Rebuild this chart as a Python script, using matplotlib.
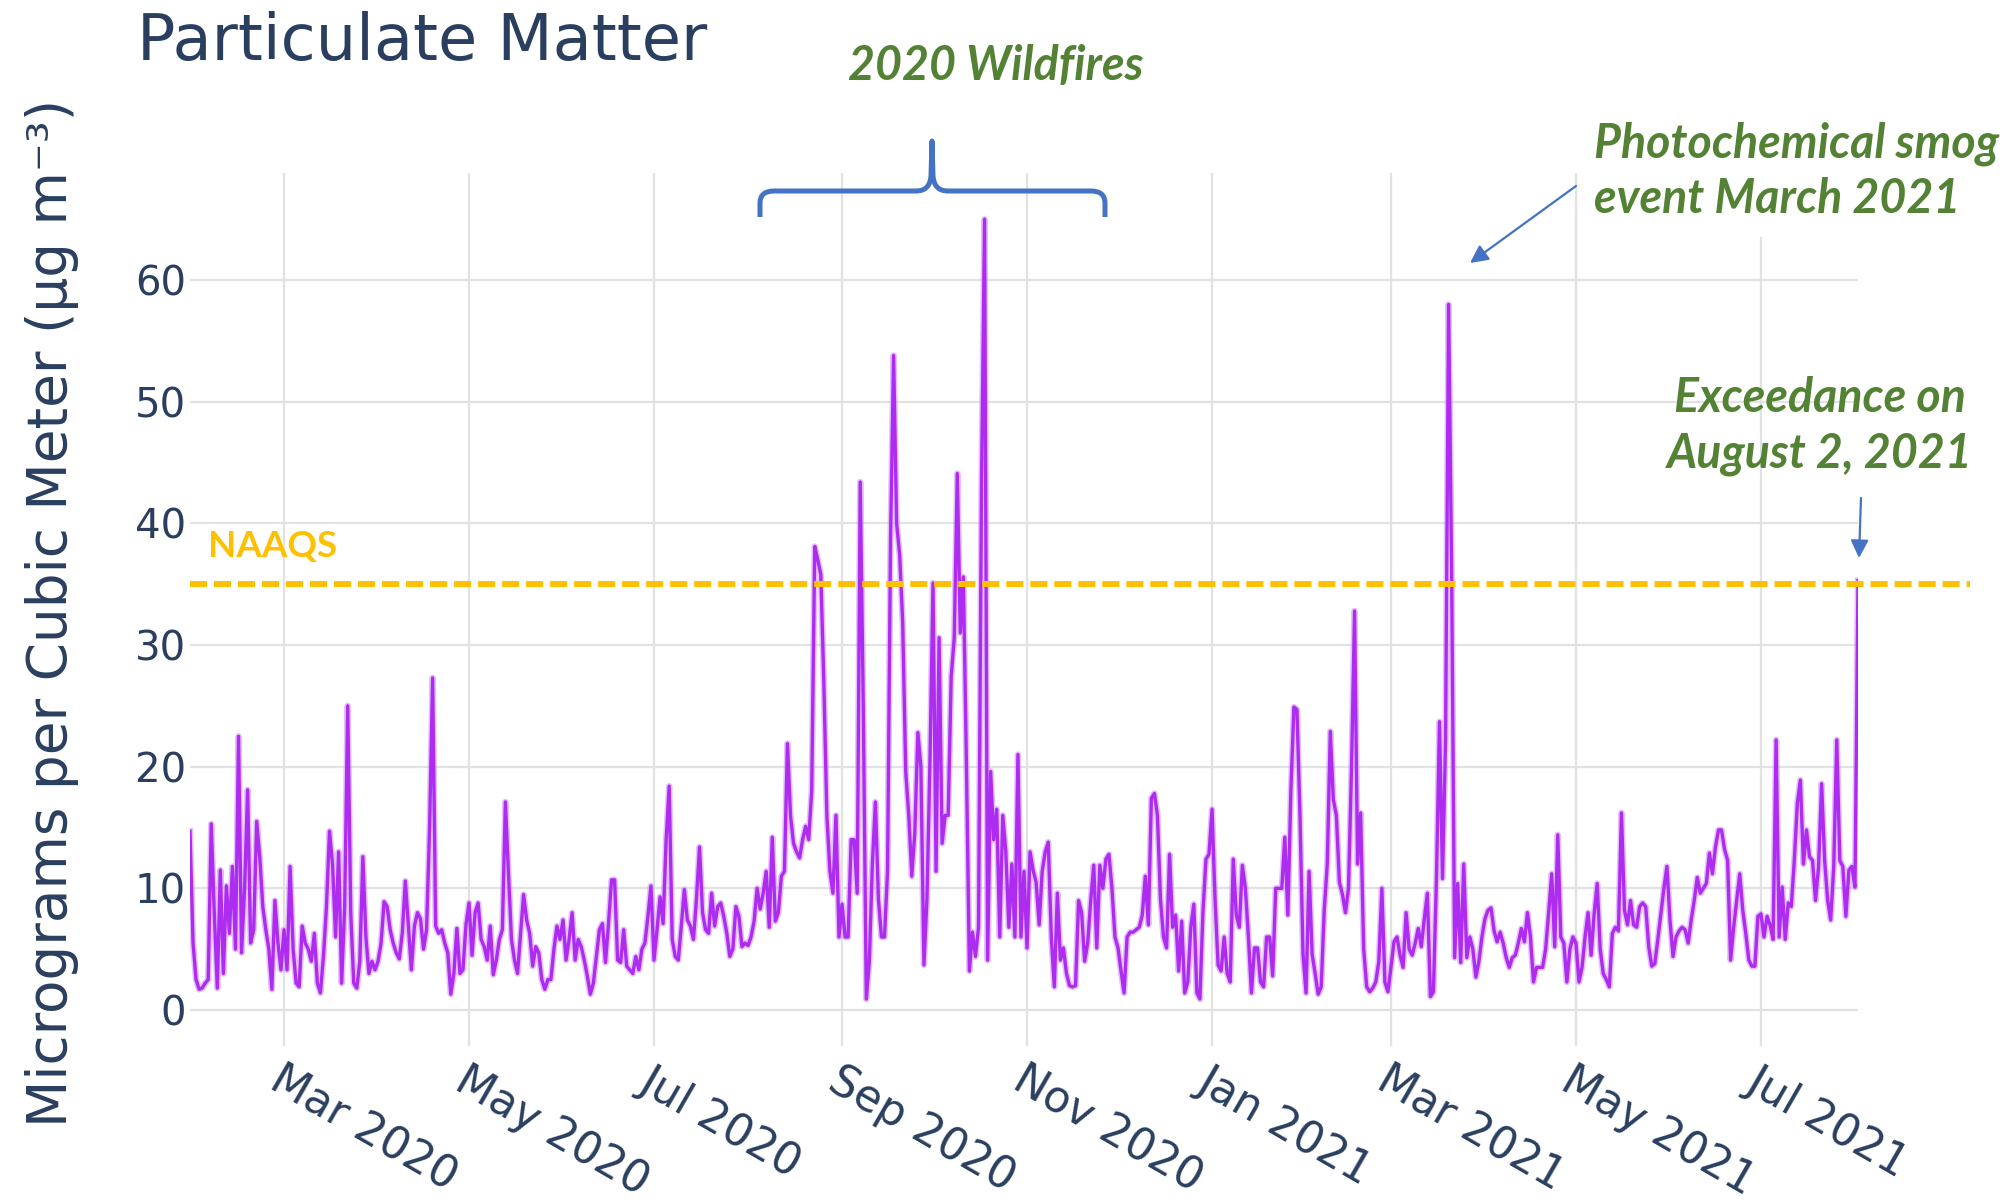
import pandas as pd
import matplotlib
matplotlib.use('Agg')
import matplotlib.pyplot as plt
import matplotlib.dates as mdates
from matplotlib.path import Path
from matplotlib.patches import PathPatch, Rectangle, FancyArrowPatch
from matplotlib.transforms import blended_transform_factory

# daily PM2.5 (ug/m3); last value is Aug 2, 2021
end_date = '2021-08-02'
pm25 = [
    14.7, 5.5, 2.5, 1.7, 1.8, 2.2, 2.5, 15.3, 8, 1.8,
    11.5, 3, 10.2, 6.3, 11.8, 5, 22.5, 4.7, 10, 18.1,
    5.5, 6.6, 15.5, 12.6, 8.5, 6.6, 5.0, 1.7, 9, 5.5,
    3.3, 6.6, 3.3, 11.8, 5, 2.2, 1.9, 6.9, 5.5, 5,
    4, 6.3, 2.2, 1.4, 4.4, 8.5, 14.7, 12, 6, 13,
    2.2, 8.5, 25, 8, 2.2, 1.8, 4, 12.6, 6, 3,
    4, 3.3, 4, 5.5, 8.9, 8.5, 6.6, 5.5, 4.7, 4.2,
    6.3, 10.6, 7, 3.3, 6.9, 8, 7.5, 5, 6.6, 15,
    27.3, 6.9, 6.3, 6.6, 5.5, 4.7, 1.3, 3.0, 6.7, 3.0,
    3.3, 7, 8.8, 4.5, 8.0, 8.8, 5.8, 5.2, 4.1, 6.9,
    2.9, 4.1, 5.8, 6.6, 17.1, 11.3, 5.8, 4.1, 3.0, 6.3,
    9.5, 7.4, 6.3, 3.6, 5.2, 4.7, 2.5, 1.7, 2.5, 2.5,
    5, 6.9, 5.8, 7.4, 4.1, 5.8, 8.0, 4.1, 5.8, 5.2,
    4.1, 2.8, 1.3, 2.2, 4.4, 6.6, 7.1, 3.9, 7.1, 10.7,
    10.7, 4.1, 3.9, 6.6, 3.6, 3.3, 3.0, 4.4, 3.3, 5,
    5.5, 7.7, 10.2, 4.1, 6.6, 9.3, 7.1, 14, 18.4, 5.8,
    4.4, 4.1, 6.9, 9.9, 7.4, 6.9, 5.8, 9.1, 13.4, 8.0,
    6.6, 6.3, 9.6, 6.9, 8.5, 8.8, 7.7, 6.3, 4.4, 5.0,
    8.5, 7.7, 5.2, 5.5, 5.3, 6, 7.3, 10.0, 8.3, 9.6,
    11.4, 6.8, 14.2, 7.3, 8, 11, 11.4, 21.9, 16, 13.7,
    13, 12.5, 14, 15.1, 14, 18, 38.1, 37, 35.8, 26.9,
    16, 11.4, 9.6, 16, 6, 8.7, 6, 6, 14, 14,
    9.6, 43.4, 25, 0.9, 4, 12, 17.1, 9.1, 6, 6,
    11.4, 38.8, 53.8, 40, 37.4, 31.9, 19.6, 16, 11, 14.6,
    22.8, 20, 3.7, 9.1, 20.5, 35.1, 11.4, 30.6, 13.7, 16,
    16, 27.4, 30.6, 44.1, 31, 35.6, 20.5, 3.2, 6.4, 4.4,
    6.8, 43.4, 65.0, 4.1, 19.6, 14, 16.5, 6, 16, 13,
    6.8, 12, 6, 21, 6, 11.4, 5.1, 13, 11.5, 10.5,
    7, 11.4, 13, 13.8, 6, 1.9, 9.6, 4.1, 5.1, 3,
    2, 1.9, 2, 9, 8, 4, 5.5, 9, 11.9, 5.1,
    11.9, 10, 12.4, 12.8, 10, 6, 5.1, 3.2, 1.4, 6,
    6.4, 6.4, 6.6, 6.8, 7.8, 11, 7, 17.4, 17.8, 16,
    9.1, 6, 5.1, 12.8, 6.8, 7.8, 3.2, 7.3, 1.4, 2.3,
    6.8, 8.7, 1.4, 0.9, 8, 12.4, 12.8, 16.5, 9.1, 3.7,
    3.2, 6, 3, 2.3, 12.4, 7.8, 6.8, 11.9, 10, 6,
    1.4, 5.1, 5.1, 2.3, 1.9, 6, 6, 2.8, 10, 10,
    10, 14.2, 7.8, 18, 24.9, 24.7, 16, 4.6, 1.4, 11.4,
    4.6, 3, 1.3, 1.9, 8.2, 12, 22.9, 17.3, 16, 10.5,
    9.5, 8, 10, 20, 32.8, 12, 16.2, 5, 1.9, 1.5,
    1.8, 2.3, 4, 10, 2.3, 1.5, 3.5, 5.6, 6, 4.5,
    3.5, 8, 5, 4.5, 5.5, 6.7, 5.2, 7.5, 9.6, 1.1,
    1.5, 10.8, 23.7, 10.8, 22.1, 58, 36.3, 4.3, 10.4, 3.9,
    12, 4.3, 6, 5, 2.7, 4, 6, 7.5, 8.2, 8.4,
    6.5, 5.6, 6.4, 5.5, 4.3, 3.5, 4.3, 4.5, 5.5, 6.7,
    5.6, 8, 6, 2.3, 3.5, 3.5, 3.5, 5, 8, 11.2,
    5.2, 14.4, 6, 5.5, 2.3, 5, 6, 5.5, 2.3, 3.5,
    6, 8, 4.5, 7.9, 10.4, 5, 3, 2.5, 1.9, 6.3,
    6.8, 6.5, 16.2, 8.2, 7, 9, 7, 6.8, 8.5, 8.8,
    8.5, 5.2, 3.6, 3.8, 5.8, 7.9, 10, 11.8, 7.4, 4.4,
    6, 6.5, 6.8, 6.6, 5.5, 7.4, 9, 10.9, 9.6, 10,
    10.4, 12.9, 11.2, 13.4, 14.8, 14.8, 13.2, 12.3, 4.1, 6.8,
    9, 11.2, 8.2, 6.3, 4.1, 3.6, 3.6, 7.7, 7.9, 6,
    7.7, 7, 5.8, 22.2, 6, 10.1, 5.8, 8.8, 8.5, 12.3,
    17, 18.9, 12, 14.8, 12.6, 12.3, 9, 11.8, 18.6, 12.3,
    9, 7.4, 11.8, 22.2, 12.3, 11.8, 7.7, 11.5, 11.8, 10.1, 35.3,
]
naaqs = 35
y_ticks = [0, 10, 20, 30, 40, 50, 60]

W, H = 2013, 1203
INK = '#2A3F5F'
GREEN = '#548235'
BLUE = '#4472C4'
GOLD = '#FFC000'
NOTE_FONT = ['Lato', 'DejaVu Sans']


def fxy(x, y):
    """pixel position (from top-left) -> figure fraction"""
    return x / W, 1 - y / H


fig = plt.figure(figsize=(W / 100, H / 100), dpi=100)
fig.patch.set_facecolor('white')
ax = fig.add_axes([190 / W, 1 - 1046 / H, (1858 - 190) / W, (1046 - 173) / H])

dates = pd.date_range(end=end_date, periods=len(pm25), freq='D')
# soft halo under the main trace, like the original's rendering
ax.plot(dates, pm25, color='#CF8CF7', lw=4.6, alpha=0.55, zorder=2,
        solid_joinstyle='round')
ax.plot(dates, pm25, color='#AE2BF0', lw=2.4, zorder=3, solid_joinstyle='round')

ax.set_xlim(dates[0], dates[-1])
ax.set_ylim(-2.96, 68.8)
ax.set_yticks(y_ticks)
ax.xaxis.set_major_locator(mdates.MonthLocator(bymonth=[1, 3, 5, 7, 9, 11]))
ax.xaxis.set_major_formatter(mdates.DateFormatter('%b %Y'))

ax.grid(True, color='#E2E2E2', lw=1.6)
ax.set_axisbelow(True)
for s in ax.spines.values():
    s.set_visible(False)
ax.tick_params(axis='both', length=0, colors=INK)
ax.tick_params(axis='y', labelsize=29, pad=3)
ax.tick_params(axis='x', labelsize=31.5, pad=9)
plt.setp(ax.get_xticklabels(), rotation=-30, ha='left', va='top',
         rotation_mode='anchor')

# NAAQS dashed line runs a bit past the plot area
trans = blended_transform_factory(ax.transAxes, ax.transData)
ax.plot([0, 1.067], [naaqs, naaqs], transform=trans, clip_on=False,
        color=GOLD, lw=4.3, linestyle=(0, (2.85, 1.17)), zorder=4)
fig.text(*fxy(208, 557), 'NAAQS', color=GOLD, fontsize=26.5, fontweight='bold',
         family=NOTE_FONT, va='baseline', ha='left')

# titles
fig.text(*fxy(137, 60), 'Particulate Matter', color=INK, fontsize=46,
         va='baseline', ha='left')
fig.text(*fxy(52, 613), 'Micrograms per Cubic Meter (μg m⁻³)', color=INK,
         fontsize=39.5, rotation=90, va='center', ha='center')

# white box behind the smog note hides the gridlines
fig.add_artist(Rectangle(fxy(1578, 237), (W - 1578) / W, (237 - 100) / H,
                         transform=fig.transFigure, facecolor='white',
                         edgecolor='none', zorder=1))

note = dict(color=GREEN, fontsize=33.5, fontweight='bold', fontstyle='italic',
            family=NOTE_FONT, va='baseline', zorder=3)
fig.text(*fxy(996, 80), '2020 Wildfires', ha='center', **note)
fig.text(*fxy(1594, 157), 'Photochemical smog', ha='left', **note)
fig.text(*fxy(1594, 213), 'event March 2021', ha='left', **note)
fig.text(*fxy(1820, 412), 'Exceedance on', ha='center', **note)
fig.text(*fxy(1820, 467), 'August 2, 2021', ha='center', **note)

# curly brace over the wildfire months
brace_px = [(760, 217), (760, 203), (760, 191), (774, 191), (916, 191),
            (930, 191), (931, 176), (932, 141), (933, 176), (934, 191),
            (948, 191), (1091, 191), (1105, 191), (1105, 203), (1105, 217)]
codes = [Path.MOVETO, Path.LINETO, Path.CURVE3, Path.CURVE3, Path.LINETO,
         Path.CURVE3, Path.CURVE3, Path.LINETO, Path.LINETO, Path.CURVE3,
         Path.CURVE3, Path.LINETO, Path.CURVE3, Path.CURVE3, Path.LINETO]
brace = Path([fxy(x, y) for x, y in brace_px], codes)
fig.add_artist(PathPatch(brace, transform=fig.transFigure, facecolor='none',
                         edgecolor=BLUE, lw=3.6, joinstyle='round',
                         capstyle='butt', zorder=2))

# arrows
for start, end in [((1576, 186), (1470, 263)), ((1861, 498), (1859, 558))]:
    fig.add_artist(FancyArrowPatch(fxy(*start), fxy(*end),
                                   transform=fig.transFigure,
                                   arrowstyle='-|>,head_length=0.4,head_width=0.2',
                                   mutation_scale=27, lw=1.6, color=BLUE,
                                   shrinkA=0, shrinkB=0, zorder=3))

fig.savefig('out.png', dpi=100)
